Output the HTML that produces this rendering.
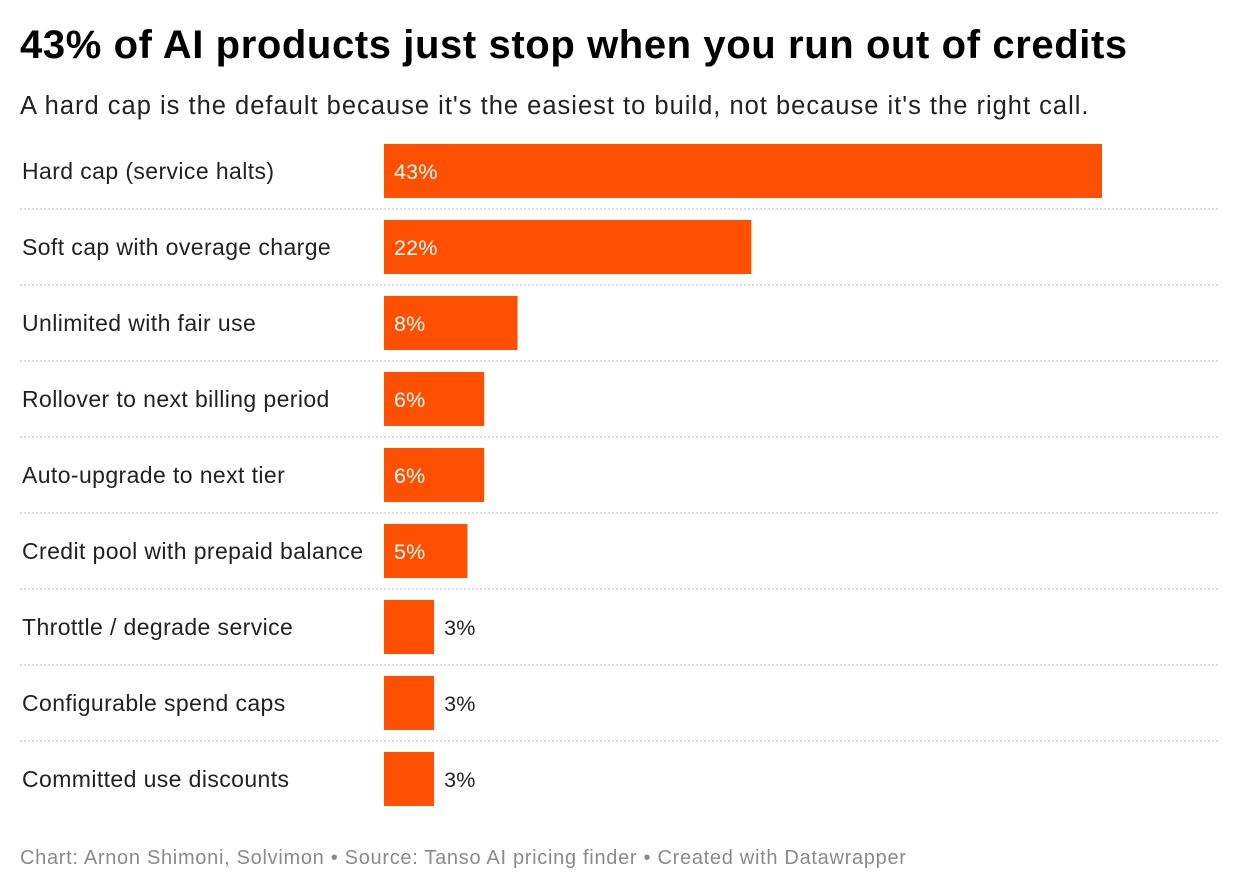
<!DOCTYPE html>
<html><head><meta charset="utf-8"><style>
body{margin:0;background:#fff;width:1240px;height:892px;overflow:hidden;font-family:"Liberation Sans",Arial,sans-serif;}
#title{position:absolute;left:20px;top:23px;font-size:40px;font-weight:bold;color:#000;letter-spacing:0.6px;margin:0;white-space:nowrap}
#sub{position:absolute;left:20px;top:92px;font-size:25.5px;color:#222;margin:0;letter-spacing:1.0px;white-space:nowrap}
#foot{position:absolute;left:20px;top:847px;font-size:20px;color:#8a8a8a;letter-spacing:0.7px;white-space:nowrap}
svg{position:absolute;left:0;top:0}
</style></head><body>
<h1 id="title">43% of AI products just stop when you run out of credits</h1>
<p id="sub">A hard cap is the default because it's the easiest to build, not because it's the right call.</p>
<svg id="chart" width="1240" height="892"></svg>
<div id="foot">Chart: Arnon Shimoni, Solvimon • Source: Tanso AI pricing finder • Created with Datawrapper</div>
<script>
const categories=["Hard cap (service halts)","Soft cap with overage charge","Unlimited with fair use","Rollover to next billing period","Auto-upgrade to next tier","Credit pool with prepaid balance","Throttle / degrade service","Configurable spend caps","Committed use discounts"];
const values=[43,22,8,6,6,5,3,3,3];
const valueLabels=["43%","22%","8%","6%","6%","5%","3%","3%","3%"];
const svg=document.getElementById('chart');
const NS='http://www.w3.org/2000/svg';
const x0=384,pxPer=718/43,top0=144,step=76,bh=54;
function xs(v){return v*pxPer;}
function ys(i){return top0+i*step;}
function mk(t,a){const e=document.createElementNS(NS,t);for(const k in a)e.setAttribute(k,a[k]);svg.appendChild(e);return e;}
categories.forEach((c,i)=>{
  const y=ys(i);
  const lab=mk('text',{x:22,y:y+bh/2+8,'font-size':23,fill:'#222','letter-spacing':0.4});
  lab.textContent=c;
  
  
  const w=xs(values[i]);
  const r=mk('rect',{x:x0,y:y,width:w,height:bh,fill:'#ff4f00'});
  
  
  const inside=w>70;
  const vt=mk('text',{x:inside?x0+10:x0+w+10,y:y+bh/2+8,'font-size':21.5,fill:inside?'#fff':'#222','letter-spacing':0.2});
  vt.textContent=valueLabels[i];
  
  
  if(i<categories.length-1){
    const l=mk('line',{x1:20,x2:1218,y1:y+bh+11,y2:y+bh+11,stroke:'#bbb','stroke-width':1,'stroke-dasharray':'2,2'});
    
    
  }
});
</script>
</body></html>
